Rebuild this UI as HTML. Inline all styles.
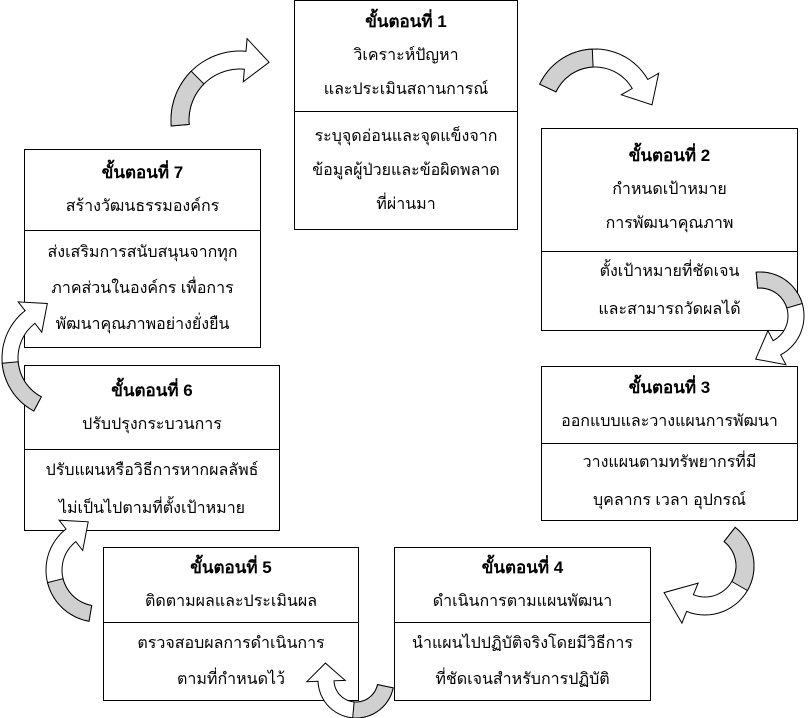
<!DOCTYPE html>
<html><head><meta charset="utf-8">
<style>
html,body{margin:0;padding:0;background:#fff;}
body{width:810px;height:718px;position:relative;overflow:hidden;font-family:"Liberation Sans","DejaVu Sans",sans-serif;color:#000;}
.box{position:absolute;border:1px solid #000;background:#fff;box-sizing:border-box;display:flex;flex-direction:column;}
.sec{display:flex;flex-direction:column;justify-content:center;align-items:center;text-align:center;font-size:16px;line-height:34px;}
.sec+.sec{border-top:1px solid #000;}
b{font-size:17px;}
svg{position:absolute;left:0;top:0;}
</style></head><body>

<div class="box" style="left:294px;top:0;width:224px;height:230px">
 <div class="sec" style="height:110px"><b>ขั้นตอนที่ 1</b><div>วิเคราะห์ปัญหา</div><div>และประเมินสถานการณ์</div></div>
 <div class="sec" style="flex:1">ระบุจุดอ่อนและจุดแข็งจาก<br>ข้อมูลผู้ป่วยและข้อผิดพลาด<br>ที่ผ่านมา</div>
</div>

<div class="box" style="left:541px;top:128px;width:257px;height:203px">
 <div class="sec" style="height:122px"><b>ขั้นตอนที่ 2</b><div>กำหนดเป้าหมาย</div><div>การพัฒนาคุณภาพ</div></div>
 <div class="sec" style="flex:1;line-height:38px">ตั้งเป้าหมายที่ชัดเจน<br>และสามารถวัดผลได้</div>
</div>

<div class="box" style="left:541px;top:366px;width:257px;height:155px">
 <div class="sec" style="height:76px"><b>ขั้นตอนที่ 3</b><div>ออกแบบและวางแผนการพัฒนา</div></div>
 <div class="sec" style="flex:1;line-height:38px">วางแผนตามทรัพยากรที่มี<br>บุคลากร เวลา อุปกรณ์</div>
</div>

<div class="box" style="left:394px;top:547px;width:257px;height:154px">
 <div class="sec" style="height:74px"><b>ขั้นตอนที่ 4</b><div>ดำเนินการตามแผนพัฒนา</div></div>
 <div class="sec" style="flex:1;line-height:36px">นำแผนไปปฏิบัติจริงโดยมีวิธีการ<br>ที่ชัดเจนสำหรับการปฏิบัติ</div>
</div>

<div class="box" style="left:103px;top:547px;width:256px;height:154px">
 <div class="sec" style="height:74px"><b>ขั้นตอนที่ 5</b><div>ติดตามผลและประเมินผล</div></div>
 <div class="sec" style="flex:1;line-height:36px">ตรวจสอบผลการดำเนินการ<br>ตามที่กำหนดไว้</div>
</div>

<div class="box" style="left:24px;top:365px;width:256px;height:166px">
 <div class="sec" style="height:83px"><b>ขั้นตอนที่ 6</b><div>ปรับปรุงกระบวนการ</div></div>
 <div class="sec" style="flex:1;line-height:38px">ปรับแผนหรือวิธีการหากผลลัพธ์<br>ไม่เป็นไปตามที่ตั้งเป้าหมาย</div>
</div>

<div class="box" style="left:24px;top:149px;width:237px;height:199px">
 <div class="sec" style="height:80px"><b>ขั้นตอนที่ 7</b><div>สร้างวัฒนธรรมองค์กร</div></div>
 <div class="sec" style="flex:1;line-height:36px">ส่งเสริมการสนับสนุนจากทุก<br>ภาคส่วนในองค์กร เพื่อการ<br>พัฒนาคุณภาพอย่างยั่งยืน</div>
</div>

<svg id="s" width="810" height="718" viewBox="0 0 810 718"></svg>
<script>
var s=document.getElementById('s');
function P(cx,cy,r,a){a=a*Math.PI/180;return [cx+r*Math.cos(a),cy+r*Math.sin(a)];}
function arc(cx,cy,r1,r2,a0,a1){
 var pts=[],n=30,i;
 for(i=0;i<=n;i++)pts.push(P(cx,cy,r2,a0+(a1-a0)*i/n));
 for(i=n;i>=0;i--)pts.push(P(cx,cy,r1,a0+(a1-a0)*i/n));
 return pts;
}
function poly(pts,fill){
 var p=document.createElementNS('http://www.w3.org/2000/svg','polygon');
 p.setAttribute('points',pts.map(function(q){return q[0].toFixed(1)+','+q[1].toFixed(1)}).join(' '));
 p.setAttribute('fill',fill);p.setAttribute('stroke','#000');p.setAttribute('stroke-width','1');
 s.appendChild(p);
}
function arrow(cx,cy,r,w,a0,a1,hl,gf){
 var r1=r-w/2,r2=r+w/2,n=30,i,pts=[];
 for(i=0;i<=n;i++)pts.push(P(cx,cy,r2,a0+(a1-a0)*i/n));
 var ar=a1*Math.PI/180, tx=-Math.sin(ar), ty=Math.cos(ar);
 var e=P(cx,cy,r,a1);
 var ho=P(cx,cy,r+w*1.2,a1), hi=P(cx,cy,r-w*1.2,a1);
 pts.push(ho);pts.push([e[0]+tx*hl,e[1]+ty*hl]);pts.push(hi);
 for(i=n;i>=0;i--)pts.push(P(cx,cy,r1,a0+(a1-a0)*i/n));
 poly(pts,'#fff');
 poly(arc(cx,cy,r1,r2,a0,a0+(a1-a0)*gf),'#d0d0d0');
}
arrow(595,110,52,18,205,330,24,0.5);
arrow(760,316,36,16,-95,62,24,0.5);
arrow(705,566,40,18,-52,112,28,0.5);
arrow(356,680,30,16,12,178,18,0.5);
arrow(98,570,44,16,100,232,22,0.5);
arrow(62,358,52,16,118,232,22,0.5);
arrow(240,120,60,18,175,275,24,0.5);
</script>
</body></html>
